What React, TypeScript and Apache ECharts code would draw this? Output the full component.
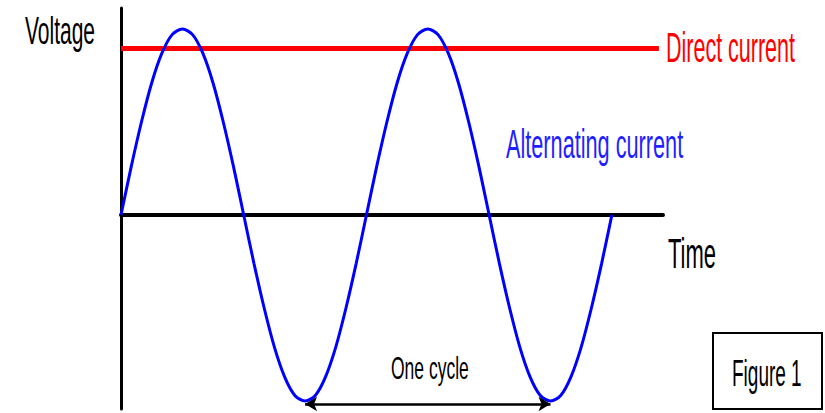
import React, { useEffect, useRef } from "react";
import * as echarts from "echarts";

// Time in degrees of phase, voltage in units of AC peak
const acTime = [
  0, 15, 30, 45, 60, 75, 90, 105, 120, 135, 150, 165, 180, 195, 210, 225, 240, 255, 270, 285, 300, 315, 330, 345,
  360, 375, 390, 405, 420, 435, 450, 465, 480, 495, 510, 525, 540, 555, 570, 585, 600, 615, 630, 645, 660, 675, 690, 705, 720,
];
const acVoltage = [
  0, 0.26, 0.5, 0.71, 0.87, 0.97, 1, 0.97, 0.87, 0.71, 0.5, 0.26, 0, -0.26, -0.5, -0.71, -0.87, -0.97, -1, -0.97, -0.87, -0.71, -0.5, -0.26,
  0, 0.26, 0.5, 0.71, 0.87, 0.97, 1, 0.97, 0.87, 0.71, 0.5, 0.26, 0, -0.26, -0.5, -0.71, -0.87, -0.97, -1, -0.97, -0.87, -0.71, -0.5, -0.26, 0,
];
const dcTime = [0, 789];
const dcVoltage = [0.895, 0.895];
const cycleStart = 270;
const cycleEnd = 630;
const cycleLevel = -1.016;

const labels = {
  yAxis: "Voltage",
  xAxis: "Time",
  dc: "Direct current",
  ac: "Alternating current",
  cycle: "One cycle",
  figure: "Figure 1",
};

const FONT = "'Liberation Sans', Arial, sans-serif";

function txt(text: string, x: number, y: number, size: number, sy: number, color: string) {
  return {
    type: "text",
    x,
    y,
    scaleY: sy,
    z: 10,
    style: {
      text,
      fill: color,
      fontSize: size,
      fontFamily: FONT,
      align: "left",
      verticalAlign: "middle",
      textAlign: "left",
      textVerticalAlign: "middle",
    },
  };
}

export default function App() {
  const ref = useRef<HTMLDivElement>(null);
  useEffect(() => {
    if (!ref.current) return;
    const chart = echarts.init(ref.current, undefined, { renderer: "svg" });
    chart.setOption({
      animation: false,
      backgroundColor: "#ffffff",
      grid: { left: 121, right: 162, top: 8, bottom: 4, containLabel: false },
      xAxis: {
        type: "value",
        min: 0,
        max: 795,
        axisLine: { show: true, onZero: true, lineStyle: { color: "#000", width: 4 } },
        axisTick: { show: false },
        axisLabel: { show: false },
        splitLine: { show: false },
      },
      yAxis: {
        type: "value",
        min: -1.043,
        max: 1.113,
        axisLine: { show: true, onZero: false, lineStyle: { color: "#000", width: 3 } },
        axisTick: { show: false },
        axisLabel: { show: false },
        splitLine: { show: false },
      },
      series: [
        {
          type: "line",
          data: dcTime.map((t, i) => [t, dcVoltage[i]]),
          symbol: "none",
          lineStyle: { color: "#ff0000", width: 5 },
          z: 3,
        },
        {
          type: "line",
          data: acTime.map((t, i) => [t, acVoltage[i]]),
          symbol: "none",
          smooth: 0.3,
          lineStyle: { color: "#0000ff", width: 3 },
          z: 4,
          markLine: {
            silent: true,
            symbol: ["arrow", "arrow"],
            symbolSize: [11, 12],
            label: { show: false },
            lineStyle: { color: "#000", width: 2.5, type: "solid" },
            data: [[{ coord: [cycleStart, cycleLevel] }, { coord: [cycleEnd, cycleLevel] }]],
          },
        },
      ],
      graphic: [
        txt(labels.yAxis, 25, 31, 21, 1.86, "#000"),
        txt(labels.dc, 666, 46.5, 21.5, 2.0, "#ff0000"),
        txt(labels.ac, 506, 144.5, 21.7, 1.87, "#1f1fff"),
        txt(labels.xAxis, 668, 252.5, 22, 1.97, "#000"),
        txt(labels.cycle, 391, 368, 17.5, 1.76, "#000"),
        {
          type: "rect",
          shape: { x: 713, y: 333, width: 109, height: 76 },
          style: { fill: "#fff", stroke: "#000", lineWidth: 2 },
          z: 9,
        },
        txt(labels.figure, 732, 372.5, 19, 1.98, "#000"),
      ],
    });
    return () => chart.dispose();
  }, []);
  return (
    <div
      ref={ref}
      style={{ position: "fixed", left: 0, top: 0, width: 825, height: 413, background: "#fff" }}
    />
  );
}
